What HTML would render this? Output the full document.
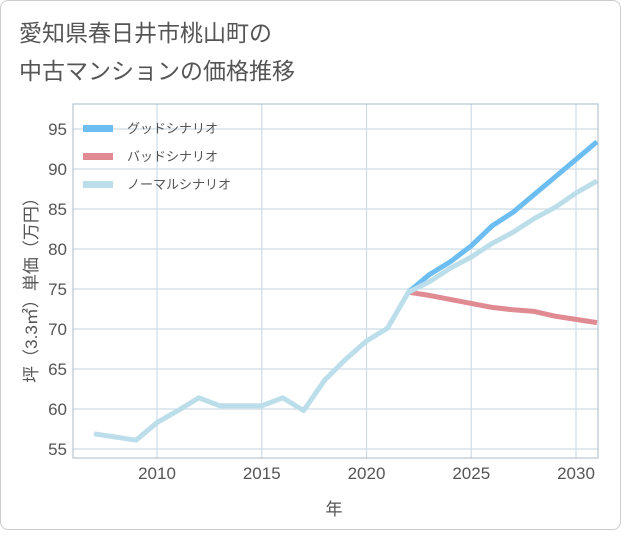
<!DOCTYPE html>
<html><head><meta charset="utf-8"><style>
body{margin:0;background:#fff;font-family:"Liberation Sans","Noto Sans CJK JP",sans-serif;}
#card{position:absolute;left:0;top:0;width:619px;height:528px;border:1px solid #ccc;border-radius:8px;background:#fff;}
</style></head><body>
<div id="card">
<svg width="621" height="530">
<text x="18" y="40" font-size="23" fill="#555">愛知県春日井市桃山町の</text>
<text x="18" y="78" font-size="23" fill="#555">中古マンションの価格推移</text>
<g id="grid"></g>
<g id="lines"></g>
<rect x="72" y="103" width="525" height="354" fill="none" stroke="#aab8c8" stroke-width="1"/>
<text transform="translate(36,285) rotate(-90)" text-anchor="middle" font-size="17" fill="#555">坪（3.3㎡）単価（万円）</text>
<text x="333" y="514" text-anchor="middle" font-size="17" fill="#555">年</text>
<g id="legend"></g>
</svg></div>
<script>
const years=[2007,2008,2009,2010,2011,2012,2013,2014,2015,2016,2017,2018,2019,2020,2021,2022,2023,2024,2025,2026,2027,2028,2029,2030,2031];
const normal=[56.9,56.5,56.1,58.3,59.8,61.4,60.4,60.4,60.4,61.4,59.8,63.6,66.2,68.5,70.1,74.6,75.9,77.6,79.0,80.7,82.1,83.8,85.2,87.0,88.5];
const goodYears=[2022,2023,2024,2025,2026,2027,2028,2029,2030,2031];
const good=[74.6,76.8,78.4,80.4,82.9,84.6,86.8,89.0,91.2,93.4];
const bad=[74.6,74.2,73.7,73.2,72.7,72.4,72.2,71.6,71.2,70.8];
const yTicks=[55,60,65,70,75,80,85,90,95];
const xTicks=[2010,2015,2020,2025,2030];
const NS="http://www.w3.org/2000/svg";
const X=v=>156+(v-2010)*(575-156)/20;
const Y=v=>448-(v-55)*(448-128)/40;
const grid=document.getElementById('grid'),lines=document.getElementById('lines'),leg=document.getElementById('legend');
function mk(t,a,p){const e=document.createElementNS(NS,t);for(const k in a)e.setAttribute(k,a[k]);p.appendChild(e);return e;}
yTicks.forEach(v=>{
 const l=mk('line',{x1:72,x2:597,y1:Y(v),y2:Y(v),stroke:'#cddbe8','stroke-width':1.2},grid);
 
 
 const t=mk('text',{x:66,y:Y(v)+6,'text-anchor':'end','font-size':17,fill:'#555'},grid);t.textContent=v;
 
 
});
xTicks.forEach(v=>{
 const l=mk('line',{x1:X(v),x2:X(v),y1:103,y2:457,stroke:'#cddbe8','stroke-width':1.2},grid);
 
 
 const t=mk('text',{x:X(v),y:478,'text-anchor':'middle','font-size':17,fill:'#555'},grid);t.textContent=v;
 
 
});
function pts(xs,ys){return xs.map((x,i)=>X(x)+','+Y(ys[i])).join(' ');}
const cp=mk('clipPath',{id:'cp'},lines);mk('rect',{x:72,y:103,width:525,height:354},cp);
const g=mk('g',{'clip-path':'url(#cp)'},lines);
const b=mk('polyline',{points:pts(goodYears,bad),fill:'none',stroke:'#e08a92','stroke-width':5,'stroke-linejoin':'round'},g);


const gd=mk('polyline',{points:pts(goodYears,good),fill:'none',stroke:'#6bbdf2','stroke-width':5,'stroke-linejoin':'round'},g);


const n=mk('polyline',{points:pts(years,normal),fill:'none',stroke:'#bcdeea','stroke-width':5,'stroke-linejoin':'round'},g);


[['グッドシナリオ','#6bbdf2',127],['バッドシナリオ','#e08a92',155],['ノーマルシナリオ','#bcdeea',183]].forEach(d=>{
 const r=mk('rect',{x:82,y:d[2]-3,width:30,height:7,fill:d[1]},leg);
 
 
 const t=mk('text',{x:126,y:d[2]+5,'font-size':13,fill:'#555'},leg);t.textContent=d[0];
 
 
});
</script>
</body></html>
